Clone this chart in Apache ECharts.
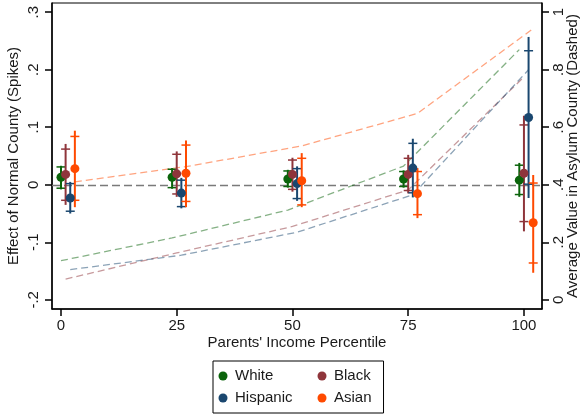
<!DOCTYPE html>
<html>
<head>
<meta charset="utf-8">
<script src="https://cdn.jsdelivr.net/npm/echarts@6/dist/echarts.min.js"></script>
<style>
html, body { margin: 0; padding: 0; background: #fff; }
#main { width: 582px; height: 415px; }
</style>
</head>
<body>
<div id="main"></div>
<script>
// x positions (percentile, shifted a little per group)
var xWhite = [0, 24, 49, 74, 99];
var xBlack = [1, 25, 50, 75, 100];
var xHispanic = [2, 26, 51, 76, 101];
var xAsian = [3, 27, 52, 77, 102];

// effect of normal county (left axis): estimate, caps [lo,hi], spikes [lo,hi]
var estWhite = [0.013, 0.013, 0.010, 0.010, 0.008];
var capWhite = [[-0.006, 0.031], [-0.005, 0.027], [-0.003, 0.024], [-0.003, 0.023], [-0.017, 0.034]];
var spikeWhite = [[-0.008, 0.033], [-0.007, 0.029], [-0.005, 0.026], [-0.005, 0.025], [-0.021, 0.038]];

var estBlack = [0.018, 0.019, 0.018, 0.018, 0.020];
var capBlack = [[-0.027, 0.062], [-0.016, 0.053], [-0.008, 0.043], [-0.010, 0.046], [-0.064, 0.104]];
var spikeBlack = [[-0.035, 0.071], [-0.021, 0.058], [-0.012, 0.047], [-0.015, 0.052], [-0.081, 0.120]];

var estHispanic = [-0.023, -0.0145, 0.002, 0.029, 0.117];
var capHispanic = [[-0.046, 0.002], [-0.038, 0.008], [-0.024, 0.028], [-0.014, 0.072], [0.001, 0.233]];
var spikeHispanic = [[-0.050, 0.005], [-0.041, 0.012], [-0.028, 0.032], [-0.022, 0.080], [-0.023, 0.257]];

var estAsian = [0.028, 0.020, 0.007, -0.0155, -0.066];
var capAsian = [[-0.027, 0.084], [-0.029, 0.069], [-0.035, 0.046], [-0.052, 0.023], [-0.136, 0.003]];
var spikeAsian = [[-0.039, 0.094], [-0.039, 0.077], [-0.039, 0.055], [-0.058, 0.029], [-0.153, 0.017]];

// average value in asylum county (right axis, dashed)
var avgWhite = [0.136, 0.215, 0.312, 0.465, 0.87];
var avgBlack = [0.072, 0.163, 0.255, 0.382, 0.775];
var avgHispanic = [0.105, 0.155, 0.235, 0.365, 0.80];
var avgAsian = [0.41, 0.463, 0.535, 0.648, 0.943];

var xTicks = [0, 25, 50, 75, 100];
var leftTicks = [-0.2, -0.1, 0, 0.1, 0.2, 0.3];
var rightTicks = [0, 0.2, 0.4, 0.6, 0.8, 1];

var FONT = 'Liberation Sans';
var TXT = '#1a1a1a';

function stataNum(v) {
    var s = String(Math.round(v * 10) / 10);
    return s.replace('0.', '.');
}

function zip(xs, ys) {
    var out = [];
    for (var i = 0; i < xs.length; i++) out.push([xs[i], ys[i]]);
    return out;
}

function ciRows(xs, caps, spikes) {
    var out = [];
    for (var i = 0; i < xs.length; i++) {
        out.push([xs[i], spikes[i][0], spikes[i][1], caps[i][0], caps[i][1]]);
    }
    return out;
}

// spike = thick vertical line, caps = short horizontal ticks
function renderSpike(params, api) {
    var x = api.value(0);
    var sLo = api.coord([x, api.value(1)]);
    var sHi = api.coord([x, api.value(2)]);
    var cLo = api.coord([x, api.value(3)]);
    var cHi = api.coord([x, api.value(4)]);
    var color = api.visual('color');
    var w = 4.5;
    return {
        type: 'group',
        children: [
            {type: 'line', shape: {x1: sLo[0], y1: sLo[1], x2: sHi[0], y2: sHi[1]}, style: {stroke: color, lineWidth: 2}},
            {type: 'line', shape: {x1: cLo[0] - w, y1: cLo[1], x2: cLo[0] + w, y2: cLo[1]}, style: {stroke: color, lineWidth: 1.5}},
            {type: 'line', shape: {x1: cHi[0] - w, y1: cHi[1], x2: cHi[0] + w, y2: cHi[1]}, style: {stroke: color, lineWidth: 1.5}}
        ]
    };
}

var colors = {White: '#0b640b', Black: '#8f353b', Hispanic: '#1a476f', Asian: '#ff4a00'};
var dashColors = {White: 'rgba(11,100,11,0.5)', Black: 'rgba(143,53,59,0.5)', Hispanic: 'rgba(26,71,111,0.5)', Asian: 'rgba(255,74,0,0.5)'};

function dashLine(name, xs, vals) {
    return {
        name: name + ' avg', type: 'line', yAxisIndex: 1, z: 2,
        data: zip(xs, vals), symbol: 'none', silent: true,
        lineStyle: {color: dashColors[name], width: 1.3, type: [7, 4]}
    };
}

function spikeSeries(name, xs, caps, spikes) {
    return {
        name: name + ' ci', type: 'custom', z: 3,
        data: ciRows(xs, caps, spikes),
        renderItem: renderSpike,
        itemStyle: {color: colors[name]},
        encode: {x: 0, y: [1, 2]}
    };
}

function pointSeries(name, xs, ests) {
    return {
        name: name, type: 'scatter', z: 4,
        data: zip(xs, ests), symbol: 'circle', symbolSize: 9,
        itemStyle: {color: colors[name], opacity: 1}
    };
}

function axisLine() {
    return {show: true, onZero: false, lineStyle: {color: '#000', width: 1.5}};
}

function axisTick(vals) {
    return {show: true, length: 7, lineStyle: {color: '#000', width: 1.5}, customValues: vals};
}

var myChart = echarts.init(document.getElementById('main'), null, {renderer: 'canvas'});
var option = {
    animation: false,
    backgroundColor: '#fff',
    grid: {
        left: 52, right: 40, top: 3, bottom: 106, outerBoundsMode: 'none', containLabel: false,
        show: true, borderColor: '#000', borderWidth: 1, backgroundColor: '#fff'
    },
    legend: {
        data: ['White', 'Hispanic', 'Black', 'Asian'],
        orient: 'vertical',
        left: 213, top: 361, height: 42,
        padding: [6, 12, 6, 5.5],
        itemGap: 4,
        itemWidth: 14, itemHeight: 9,
        icon: 'circle',
        borderColor: '#000', borderWidth: 1,
        formatter: function (name) {
            return (name === 'White' || name === 'Hispanic') ? '{c1|' + name + '}' : name;
        },
        textStyle: {
            fontFamily: FONT, fontSize: 15, color: TXT, lineHeight: 18,
            rich: {c1: {width: 78.5, fontFamily: FONT, fontSize: 15, color: TXT, lineHeight: 18}}
        }
    },
    xAxis: {
        type: 'value', min: -1.94, max: 103.9,
        axisLine: axisLine(), splitLine: {show: false},
        name: "Parents' Income Percentile", nameLocation: 'middle', nameGap: 26, nameMoveOverlap: false,
        nameTextStyle: {fontFamily: FONT, fontSize: 15, color: TXT},
        axisTick: axisTick(xTicks),
        axisLabel: {fontFamily: FONT, fontSize: 15, color: TXT, margin: 9, customValues: xTicks}
    },
    yAxis: [
        {
            type: 'value', position: 'left', min: -0.216, max: 0.316,
            axisLine: axisLine(), splitLine: {show: false},
            name: 'Effect of Normal County (Spikes)', nameLocation: 'middle', nameGap: 31, nameMoveOverlap: false,
            nameTextStyle: {fontFamily: FONT, fontSize: 15, color: TXT},
            axisTick: axisTick(leftTicks),
            axisLabel: {fontFamily: FONT, fontSize: 15, color: TXT, rotate: 90, margin: 11, customValues: leftTicks, formatter: stataNum}
        },
        {
            type: 'value', position: 'right', min: -0.032, max: 1.032,
            axisLine: axisLine(), splitLine: {show: false},
            name: 'Average Value in Asylum County (Dashed)', nameLocation: 'middle', nameGap: 23, nameMoveOverlap: false,
            nameTextStyle: {fontFamily: FONT, fontSize: 15, color: TXT},
            axisTick: axisTick(rightTicks),
            axisLabel: {fontFamily: FONT, fontSize: 15, color: TXT, rotate: 90, margin: 9.5, customValues: rightTicks, formatter: stataNum}
        }
    ],
    series: [
        dashLine('White', xWhite, avgWhite),
        dashLine('Black', xBlack, avgBlack),
        dashLine('Hispanic', xHispanic, avgHispanic),
        dashLine('Asian', xAsian, avgAsian),
        spikeSeries('White', xWhite, capWhite, spikeWhite),
        spikeSeries('Black', xBlack, capBlack, spikeBlack),
        spikeSeries('Hispanic', xHispanic, capHispanic, spikeHispanic),
        spikeSeries('Asian', xAsian, capAsian, spikeAsian),
        Object.assign(pointSeries('White', xWhite, estWhite), {
            markLine: {
                silent: true, symbol: 'none', z: 1, label: {show: false},
                lineStyle: {color: '#7a7a7a', width: 1.4, type: [8, 4]},
                data: [{yAxis: 0}]
            }
        }),
        pointSeries('Black', xBlack, estBlack),
        pointSeries('Hispanic', xHispanic, estHispanic),
        pointSeries('Asian', xAsian, estAsian)
    ]
};
myChart.setOption(option);
</script>
</body>
</html>
